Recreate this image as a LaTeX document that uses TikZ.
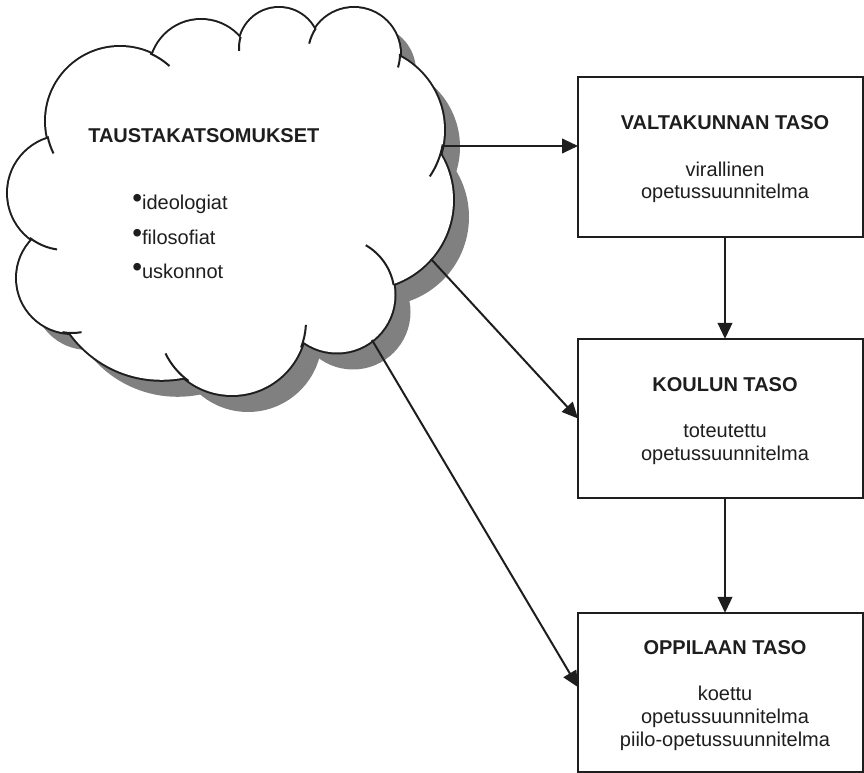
\documentclass[tikz,border=0pt]{standalone}
\usepackage{fontspec}
\setmainfont{Liberation Sans}
\usetikzlibrary{arrows.meta,calc}
\definecolor{ink}{HTML}{1E1E1E}
\definecolor{cloudshadow}{HTML}{808080}
% bumps of the cloud: centre x / centre y / radius (y grows downwards)
\newcommand\cloudbumps{65/193/57, 120/121/74, 201/71/51, 279/48/40, 354/54/46, 361/130/83, 364/200/89, 337/295/57.5, 232/321/74, 161.6/266.9/112.9, 72/278/55}
% inner arcs where one bump runs on past its neighbour: centre / radius / from / to
\newcommand\cloudtails{120/121/74/168/154, 120/121/74/-66/-48, 65/193/57/128/98, 72/278/55/100/80, 232/321/74/126/154, 232/321/74/21/3, 337/295/57.5/-10/-60, 361/130/83/10/34, 354/54/46/0/17, 354/54/46/214/193, 279/48/40/196/176}
\newcommand\bul{\raisebox{1.6pt}{\scalebox{1.4}{•}}}
\begin{document}
\begin{tikzpicture}[x=0.75pt,y=-0.75pt,
  arr/.style={draw=ink,line width=1.5pt,-{Triangle[length=12pt,width=11pt]}},
  box/.style={draw=ink,line width=1.5pt,fill=white,minimum width=213.75pt,minimum height=119.5pt,inner sep=0pt,outer sep=0pt},
  head/.style={font=\bfseries\fontsize{15}{17.25}\selectfont,text=ink,inner sep=0pt,anchor=base},
  body/.style={font=\fontsize{15}{17.25}\selectfont,text=ink,inner sep=0pt,anchor=base},
]
\useasboundingbox (0,0) rectangle (864,773);

% cloud shadow
\begin{scope}[shift={(16,17)}]
  \foreach \cx/\cy/\r in \cloudbumps { \fill[cloudshadow] (\cx,\cy) circle[radius=\r]; }
  \fill[cloudshadow] (66,145) -- (162,69) -- (240,54) -- (307,47) -- (387,72) -- (420,153) -- (378,274) -- (297,331) -- (191,360) -- (85,317) -- (53,235) -- cycle;
\end{scope}

% cloud outline: wide strokes, then the white body covers their inner half
\foreach \cx/\cy/\r in \cloudbumps { \draw[ink,line width=3pt] (\cx,\cy) circle[radius=\r]; }
\foreach \cx/\cy/\r in \cloudbumps { \fill[white] (\cx,\cy) circle[radius=\r]; }
\fill[white] (66,145) -- (162,69) -- (240,54) -- (307,47) -- (387,72) -- (420,153) -- (378,274) -- (297,331) -- (191,360) -- (85,317) -- (53,235) -- cycle;
\foreach \cx/\cy/\r/\a/\b in \cloudtails {
  \draw[ink,line width=1.5pt] (\cx,\cy) ++(\a:\r) arc[start angle=\a,end angle=\b,radius=\r];
}

% cloud text
\node[head,anchor=base west] (ct) at (88,143) {TAUSTAKATSOMUKSET};
\node[body,anchor=base west] (c1) at (132,210) {\bul ideologiat};
\node[body,anchor=base west] (c2) at (132,244.5) {\bul filosofiat};
\node[body,anchor=base west] (c3) at (132,279) {\bul uskonnot};

% boxes
\node[box] (b1) at (720.5,157) {};
\node[box] (b2) at (720.5,418.5) {};
\node[box] (b3) at (720.5,692.5) {};

\node[head] (h1) at (725,130) {VALTAKUNNAN TASO};
\node[body] (v1) at (725,176.5) {virallinen};
\node[body] (v2) at (725,198.5) {opetussuunnitelma};

\node[head] (h2) at (725,392) {KOULUN TASO};
\node[body] (s1) at (725,438) {toteutettu};
\node[body] (s2) at (725,460.5) {opetussuunnitelma};

\node[head] (h3) at (725,654) {OPPILAAN TASO};
\node[body] (p1) at (725,700) {koettu};
\node[body] (p2) at (725,723) {opetussuunnitelma};
\node[body] (p3) at (725,746.5) {piilo-opetussuunnitelma};

% connectors
\coordinate (k1) at (442,146);
\coordinate (k2) at (431,259);
\coordinate (k3) at (372,340);
\draw[arr] (k1) -- (k1 -| b1.west);
\draw[arr] (k2) -- (b2.west);
\draw[arr] (k3) -- ([yshift=4pt]b3.west);
\draw[arr] (b1.south -| h1) -- (b2.north -| h1);
\draw[arr] (b2.south -| h2) -- (b3.north -| h3);
\end{tikzpicture}
\end{document}
